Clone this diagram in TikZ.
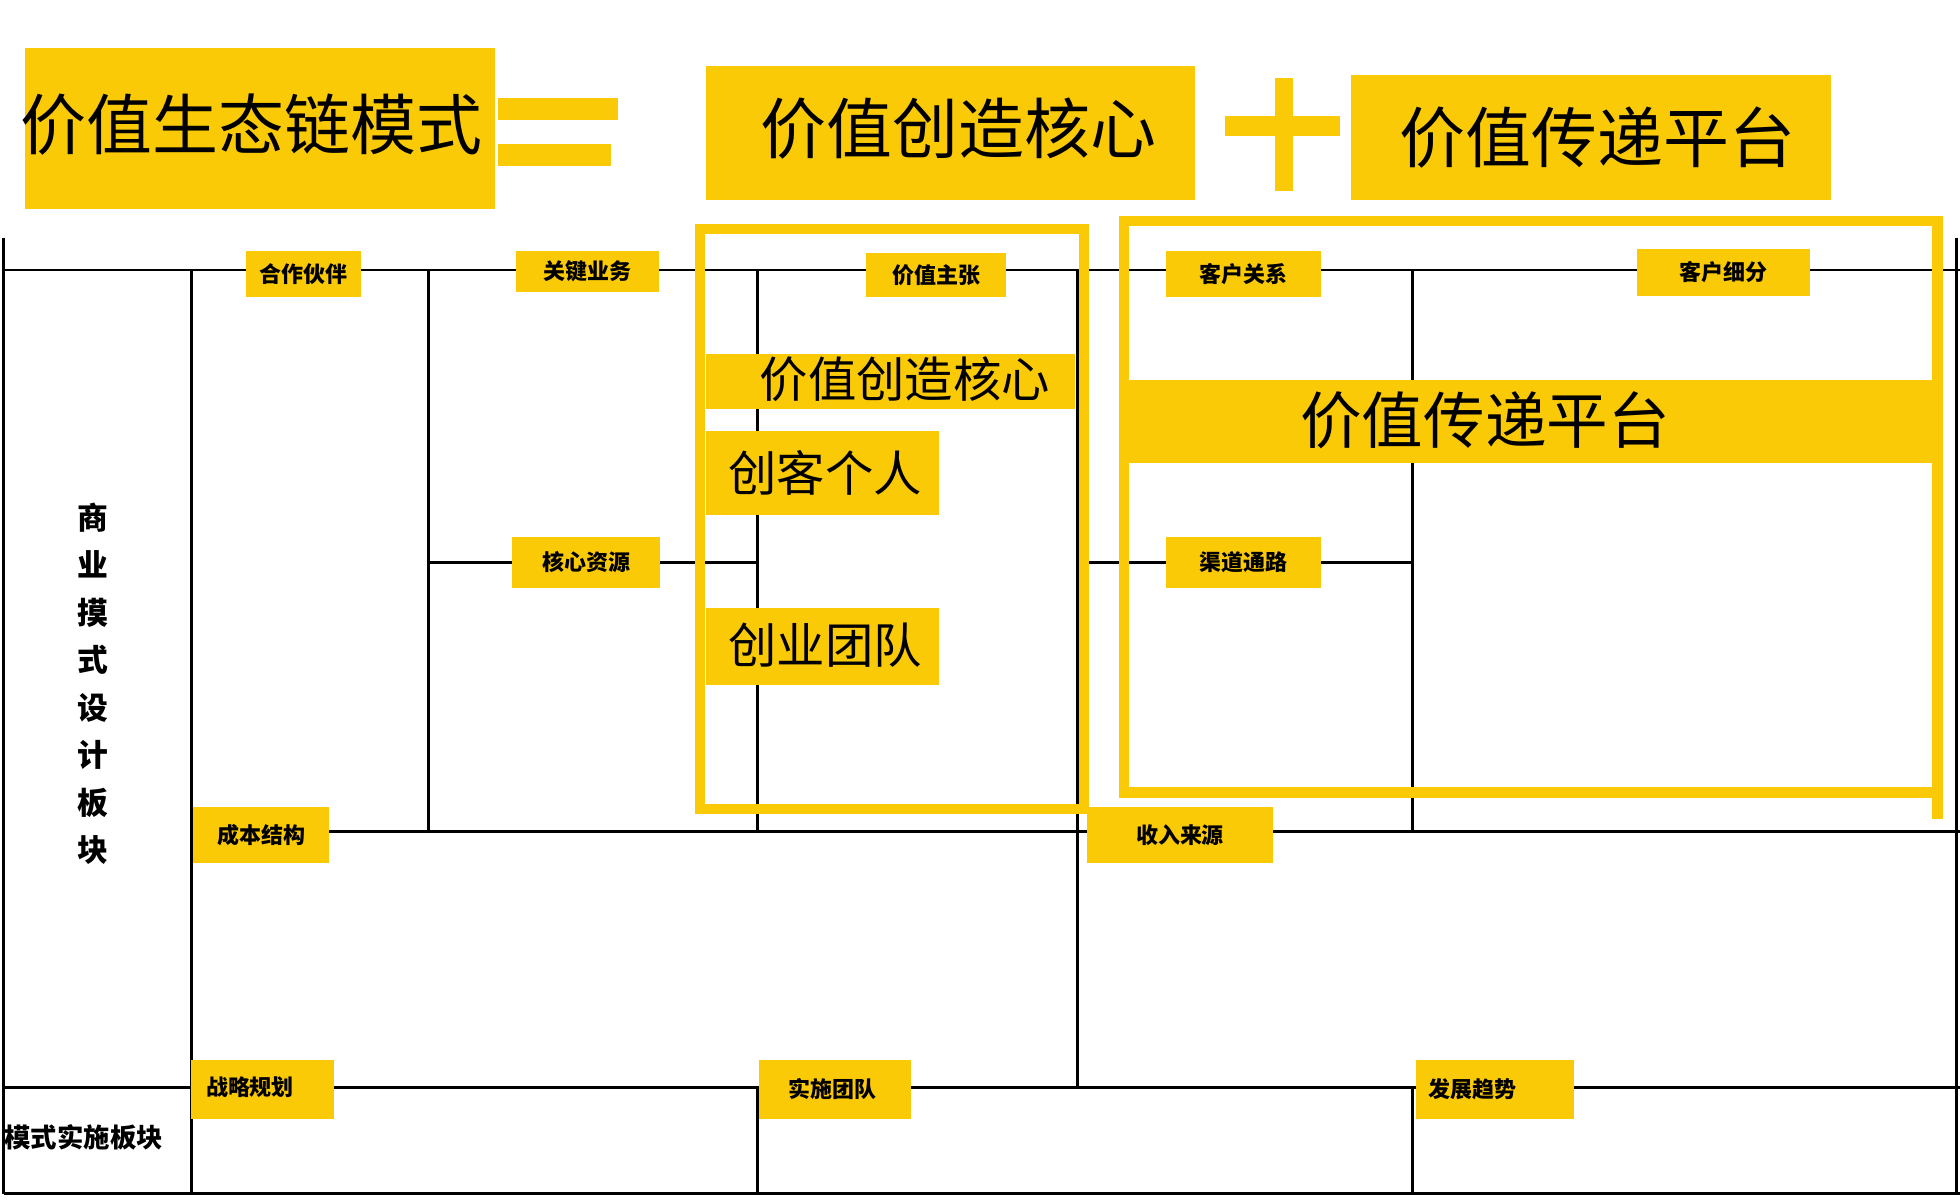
\documentclass[tikz,border=0pt]{standalone}
\usepackage{fontspec}
\newfontfamily\cjk{Noto Sans CJK SC}
\newfontfamily\cjkb{Noto Sans CJK SC Bold}
\definecolor{yel}{HTML}{FBCA07}
\begin{document}
\begin{tikzpicture}[x=0.01cm,y=-0.01cm,
  yb/.style={fill=yel,draw=none},
  gl/.style={line width=0.6pt,black},
  fr/.style={draw=yel,line width=2.3pt},
  lab/.style={fill=yel,inner sep=0pt,font=\cjk\bfseries\fontsize{5}{6}\selectfont},
  big/.style={inner sep=0pt,font=\cjk\fontsize{15}{18}\selectfont},
  mid/.style={inner sep=0pt,font=\cjk\fontsize{11}{13}\selectfont}]
\useasboundingbox (0,0) rectangle (1568,960);
% top title
\fill[yb] (20,38) rectangle (396,167);
\node[big] (t1) at (201,100) {价值生态链模式};
\fill[yb] (398,78) rectangle (494,96);
\fill[yb] (398,115) rectangle (489,133);
\fill[yb] (565,53) rectangle (956,160);
\node[big] (t2) at (767,103) {价值创造核心};
\fill[yb] (980,93) rectangle (1072,109);
\fill[yb] (1020,62) rectangle (1034,153);
\fill[yb] (1081,60) rectangle (1465,160);
\node[big] (t3) at (1278,110) {价值传递平台};
% grid
\draw[gl] (3,190) -- (3,955);
\draw[gl] (3,216) -- (1568,216);
\draw[gl] (153,216) -- (153,955);
\draw[gl] (343,216) -- (343,665);
\draw[gl] (606,216) -- (606,665);
\draw[gl] (862,216) -- (862,870);
\draw[gl] (1130,216) -- (1130,665);
\draw[gl] (1565,190) -- (1565,955);
\draw[gl] (343,450) -- (606,450);
\draw[gl] (862,450) -- (1130,450);
\draw[gl] (153,665) -- (1568,665);
\draw[gl] (3,870) -- (1568,870);
\draw[gl] (3,955) -- (1568,955);
\draw[gl] (606,870) -- (606,955);
\draw[gl] (1130,870) -- (1130,955);
% yellow frames
\draw[fr] (560,183) rectangle (867,647);
\draw[fr] (899,177) rectangle (1550,634);
\draw[yel,line width=2.3pt] (1550,634) -- (1550,655);
% inner bands
\fill[yb] (565,283) rectangle (860,327);
\node[mid] (v1) at (724,303) {价值创造核心};
\fill[yb] (565,345) rectangle (751,412);
\node[mid] (v2) at (660,378) {创客个人};
\fill[yb] (565,486) rectangle (751,548);
\node[mid] (v3) at (660,516) {创业团队};
\fill[yb] (900,304) rectangle (1550,370);
\node[inner sep=0pt,font=\cjk\fontsize{14}{16}\selectfont] (v4) at (1188,336) {价值传递平台};
% labels
\node[lab,minimum width=92pt*0.2845,minimum height=37pt*0.2845] (a) at (243,219) {合作伙伴};
\node[lab,minimum width=114pt*0.2845,minimum height=33pt*0.2845] (b) at (470,217) {关键业务};
\node[lab,minimum width=112pt*0.2845,minimum height=35pt*0.2845] (c) at (749,220) {价值主张};
\node[lab,minimum width=124pt*0.2845,minimum height=37pt*0.2845] (d) at (995,219) {客户关系};
\node[lab,minimum width=138pt*0.2845,minimum height=37pt*0.2845] (e) at (1379,218) {客户细分};
\node[lab,minimum width=118pt*0.2845,minimum height=40pt*0.2845] (f) at (469,450) {核心资源};
\node[lab,minimum width=124pt*0.2845,minimum height=40pt*0.2845] (g) at (995,450) {渠道通路};
\node[lab,minimum width=109pt*0.2845,minimum height=45pt*0.2845] (h) at (209,668) {成本结构};
\node[lab,minimum width=148pt*0.2845,minimum height=45pt*0.2845] (i) at (944,668) {收入来源};
\fill[yb] (153,848) rectangle (267,895);
\node[inner sep=0pt,font=\cjk\bfseries\fontsize{5}{6}\selectfont] (j) at (200,870) {战略规划};
\fill[yb] (607,848) rectangle (729,895);
\node[inner sep=0pt,font=\cjk\bfseries\fontsize{5}{6}\selectfont] (k) at (666,871) {实施团队};
\fill[yb] (1133,848) rectangle (1259,895);
\node[inner sep=0pt,font=\cjk\bfseries\fontsize{5}{6}\selectfont] (l) at (1178,871) {发展趋势};
\node[inner sep=0pt,font=\cjk\bfseries\fontsize{6}{7}\selectfont] (m) at (67,910) {模式实施板块};
\node[inner sep=0pt,align=center,font=\cjk\bfseries\fontsize{7}{10.8}\selectfont] (n) at (74,547) {商\\业\\摸\\式\\设\\计\\板\\块};
\end{tikzpicture}
\end{document}
